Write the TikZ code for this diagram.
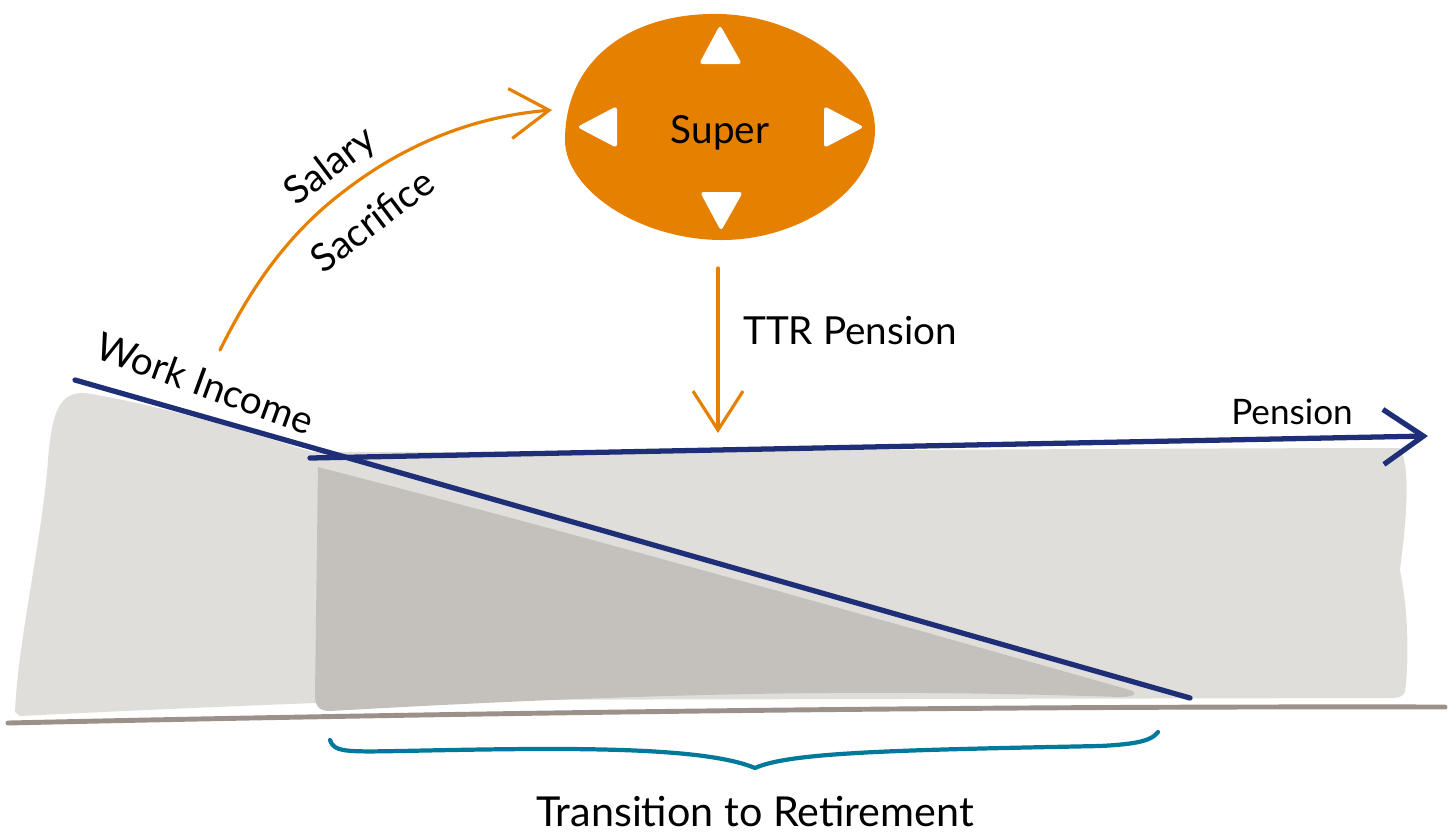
\documentclass[tikz,border=0pt]{standalone}
\usepackage{fontspec}
\setmainfont{Lato}
\usetikzlibrary{arrows.meta}
\definecolor{bluel}{HTML}{1F2F77}
\definecolor{orng}{HTML}{E58000}
\definecolor{teal2}{HTML}{00799A}
\definecolor{ground}{HTML}{9B918A}
\definecolor{lgray}{HTML}{DFDEDB}
\definecolor{dgray}{HTML}{C4C1BC}
\begin{document}
\begin{tikzpicture}[x=0.02cm,y=-0.02cm,
  lbl/.style={font=\fontsize{22}{30}\selectfont, inner sep=0pt},
  orangearrow/.style={draw=orng, line width=1.8pt, line cap=round, line join=round,
     -{Straight Barb[length=0.78cm,width=1.0cm,line width=1.8pt]}},
  bluearrow/.style={draw=bluel, line width=3pt, line cap=round, line join=round,
     -{Straight Barb[length=0.8cm,width=1.1cm,line width=3pt]}},
  wtri/.style={fill=white, rounded corners=2pt}]
\useasboundingbox (0,0) rectangle (1454,833);
% light gray area
\fill[lgray] (15,712) .. controls (18,640) and (42,540) .. (48,460)
  .. controls (52,410) and (60,392) .. (85,393)
  .. controls (160,405) and (250,432) .. (312,452)
  .. controls (600,452) and (1200,448) .. (1400,448)
  .. controls (1412,470) and (1405,530) .. (1400,570)
  .. controls (1410,620) and (1408,670) .. (1405,692)
  .. controls (1403,698) and (1395,698) .. (1390,698)
  -- (400,700) .. controls (250,705) and (100,712) .. (20,716) -- cycle;
% darker area
\fill[dgray] (318,467) .. controls (600,540) and (900,625) .. (1130,690)
  .. controls (1140,694) and (1132,697) .. (1120,697)
  .. controls (900,690) and (700,690) .. (330,711)
  .. controls (318,711) and (315,705) .. (315,695) -- cycle;
% ground
\draw[ground, line width=2.8pt, line cap=round] (8,723) .. controls (500,712) and (1000,706) .. (1445,707);
% Super blob
\fill[orng] (565,140) .. controls (565,60) and (630,12) .. (720,14)
  .. controls (800,16) and (875,70) .. (875,130)
  .. controls (875,190) and (800,240) .. (722,240)
  .. controls (640,240) and (565,190) .. (565,140) -- cycle;
\fill[wtri] (720,25) -- (742,64) -- (699,64) -- cycle;
\fill[wtri] (721,231) -- (743,192) -- (700,192) -- cycle;
\fill[wtri] (577,127) -- (617,106) -- (617,148) -- cycle;
\fill[wtri] (864,127) -- (824,106) -- (824,148) -- cycle;
\node[lbl] (super) at (720,133) {Super};
% work income line
\coordinate (wi0) at (75,380);
\coordinate (wi1) at (1190,698);
\draw[bluel, line width=3pt, line cap=round] (wi0) -- (wi1);
% pension line
\coordinate (p0) at (310,458);
\coordinate (p1) at (1428,436);
\draw[bluearrow] (p0) -- (p1);
% salary sacrifice arrow
\coordinate (ss0) at (220,350);
\coordinate (ssm) at (343,192);
\coordinate (ss1) at (552,110);
\draw[orangearrow] (ss0) .. controls (245,300) and (280,240) .. (ssm)
  .. controls (410,140) and (480,116) .. (ss1);
% TTR arrow
\coordinate (ttr0) at (718,268);
\coordinate (ttr1) at (718,433);
\draw[orangearrow] (ttr0) -- (ttr1);
% brace
\coordinate (b0) at (330,740);
\coordinate (b1) at (1158,732);
\coordinate (bm) at (755,768);
\draw[teal2, line width=2.4pt, line cap=round, line join=round]
  (b0) .. controls (334,752) and (345,752) .. (400,751)
  .. controls (550,748) and (700,745) .. (bm)
  .. controls (790,752) and (900,750) .. (1100,746)
  .. controls (1140,744) and (1152,740) .. (b1);
% labels
\node[lbl, rotate=-20] (work) at (205,383) {Work Income};
\node[lbl, rotate=37] (sal1) at (331,167) {Salary};
\node[lbl, rotate=37] (sal2) at (372,220) {Sacrifice};
\node[lbl] (ttr) at (850,331) {TTR Pension};
\node[lbl, font=\fontsize{20}{24}\selectfont] (pens) at (1292,412) {Pension};
\node[lbl, font=\fontsize{23.5}{28}\selectfont] (trans) at (755,812) {Transition to Retirement};
\end{tikzpicture}
\end{document}
